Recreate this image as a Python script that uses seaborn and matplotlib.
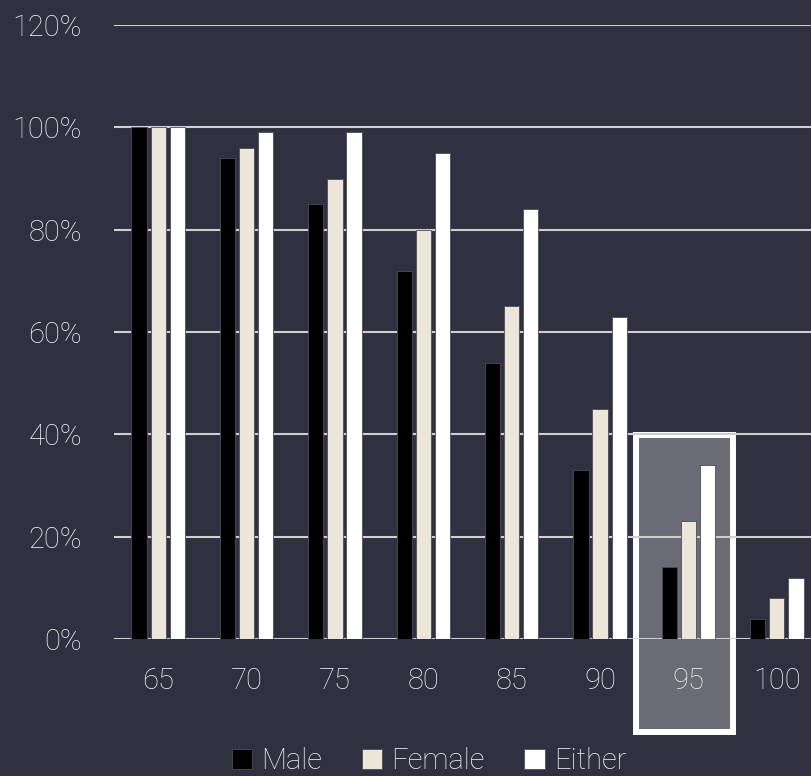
import matplotlib.pyplot as plt
import pandas as pd
import seaborn as sns
from matplotlib.patches import Rectangle
from matplotlib.ticker import PercentFormatter

ages = ["65", "70", "75", "80", "85", "90", "95", "100"]
male = [100, 94, 85, 72, 54, 33, 14, 4]
female = [100, 96, 90, 80, 65, 45, 23, 8]
either = [100, 99, 99, 95, 84, 63, 34, 12]
series = ["Male", "Female", "Either"]

BG = "#2f3140"
TXT = "#f2f2f2"
GRID = "#cfcfcf"
palette = {"Male": "#000000", "Female": "#ebe5da", "Either": "#ffffff"}

df = pd.DataFrame({"age": ages, "Male": male, "Female": female, "Either": either})
long = df.melt(id_vars="age", var_name="who", value_name="pct")

sns.set_style("dark")
plt.rcParams["font.family"] = ["Roboto", "DejaVu Sans"]
plt.rcParams["font.weight"] = "light"

fig = plt.figure(figsize=(8.12, 7.76), dpi=100, facecolor=BG)
ax = fig.add_axes([114 / 812, 137 / 776, 707 / 812, 614 / 776])
ax.set_facecolor(BG)

# highlighted column (95)
ax.add_patch(Rectangle((5.405, -18.2), 1.095, 58.1, facecolor="#6b6b76",
                       edgecolor="white", linewidth=4.3, zorder=0.5, clip_on=False))

sns.barplot(data=long, x="age", y="pct", hue="who", order=ages, hue_order=series,
            palette=palette, width=0.65, gap=0.2, edgecolor="#4a4c58", linewidth=0.6,
            saturation=1, ax=ax, zorder=3)

ax.set_ylim(0, 120)
ax.set_xlim(-0.5, 7.5)
ax.set_yticks(range(0, 121, 20))
ax.yaxis.set_major_formatter(PercentFormatter(decimals=0))
for y in range(0, 121, 20):
    ax.axhline(y, color=GRID, lw=1.5, zorder=1)
ax.grid(False)
for s in ax.spines.values():
    s.set_visible(False)
ax.tick_params(axis="y", length=0, pad=23, labelsize=21, labelcolor=TXT)
ax.tick_params(axis="x", length=0, pad=20, labelsize=21, labelcolor=TXT)
ax.set_xlabel("")
ax.set_ylabel("")

sns.move_legend(ax, "center", bbox_to_anchor=(429 / 812, 1 - 761 / 776),
                bbox_transform=fig.transFigure, ncol=3, frameon=False, title=None,
                fontsize=21, handlelength=0.7, handleheight=0.7, handletextpad=0.32,
                columnspacing=1.35, labelcolor=TXT)

fig.savefig("out.png", dpi=100, facecolor=BG)
